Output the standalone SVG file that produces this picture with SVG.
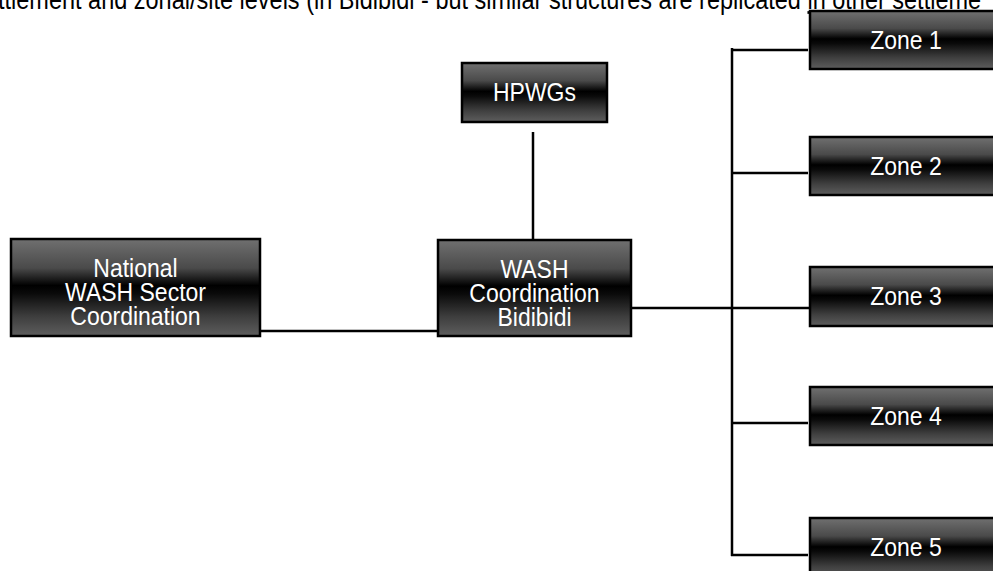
<svg xmlns="http://www.w3.org/2000/svg" width="993" height="571" viewBox="0 0 993 571">
<defs>
<linearGradient id="metal" x1="0" y1="0" x2="0" y2="1">
<stop offset="0" stop-color="#707070"/>
<stop offset="0.3" stop-color="#4a4a4a"/>
<stop offset="0.48" stop-color="#000000"/>
<stop offset="0.56" stop-color="#0a0a0a"/>
<stop offset="0.8" stop-color="#3e3e3e"/>
<stop offset="1" stop-color="#5e5e5e"/>
</linearGradient>
</defs>
<style>
.box{fill:url(#metal);stroke:#000;stroke-width:2.5}
.lbl{font-family:"Liberation Sans",Arial,sans-serif;font-size:23px;fill:#fff;text-anchor:middle}
.hdr{font-family:"Liberation Sans",Arial,sans-serif;font-size:23.5px;fill:#000}
.conn{stroke:#000;stroke-width:2.5;fill:none}
</style>
<rect width="993" height="571" fill="#fff"/>
<text class="hdr" transform="translate(-2,9) scale(1,1.15)">ttlement and zonal/site levels (in Bidibidi - but similar structures are replicated <tspan text-decoration="underline">in other settleme</tspan></text>
<g id="connectors">
<line class="conn" x1="260" y1="331" x2="438" y2="331"/>
<line class="conn" x1="533" y1="132" x2="533" y2="240"/>
<line class="conn" x1="631" y1="308" x2="810" y2="308"/>
<line class="conn" x1="732" y1="48" x2="732" y2="556"/>
<line class="conn" x1="731" y1="50" x2="808" y2="50"/>
<line class="conn" x1="731" y1="173" x2="808" y2="173"/>
<line class="conn" x1="731" y1="423" x2="808" y2="423"/>
<line class="conn" x1="731" y1="555" x2="808" y2="555"/>
</g>
<g id="national">
<rect class="box" x="11" y="239" width="249" height="97"/>
<text class="lbl" transform="translate(135.5,277) scale(1,1.15)">National</text>
<text class="lbl" transform="translate(135.5,301) scale(1,1.15)">WASH Sector</text>
<text class="lbl" transform="translate(135.5,325) scale(1,1.15)">Coordination</text>
</g>
<g id="wash-bidibidi">
<rect class="box" x="438" y="240" width="193" height="96"/>
<text class="lbl" transform="translate(534.5,278) scale(1,1.15)">WASH</text>
<text class="lbl" transform="translate(534.5,302) scale(1,1.15)">Coordination</text>
<text class="lbl" transform="translate(534.5,326) scale(1,1.15)">Bidibidi</text>
</g>
<g id="hpwgs">
<rect class="box" x="462" y="63" width="145" height="59"/>
<text class="lbl" transform="translate(534.5,101) scale(1,1.15)">HPWGs</text>
</g>
<g id="zone1">
<rect class="box" x="810" y="11" width="190" height="58"/>
<text class="lbl" transform="translate(906,49) scale(1,1.15)">Zone 1</text>
</g>
<g id="zone2">
<rect class="box" x="810" y="137" width="190" height="58"/>
<text class="lbl" transform="translate(906,175) scale(1,1.15)">Zone 2</text>
</g>
<g id="zone3">
<rect class="box" x="810" y="267" width="190" height="59"/>
<text class="lbl" transform="translate(906,305) scale(1,1.15)">Zone 3</text>
</g>
<g id="zone4">
<rect class="box" x="810" y="387" width="190" height="58"/>
<text class="lbl" transform="translate(906,425) scale(1,1.15)">Zone 4</text>
</g>
<g id="zone5">
<rect class="box" x="810" y="518" width="190" height="60"/>
<text class="lbl" transform="translate(906,556) scale(1,1.15)">Zone 5</text>
</g>
</svg>
